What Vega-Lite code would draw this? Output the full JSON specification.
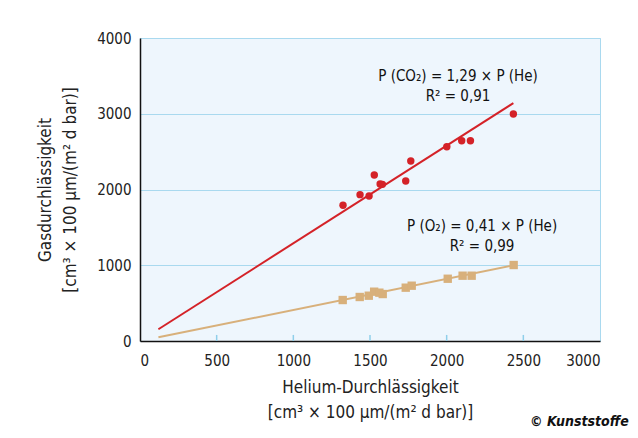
{
  "$schema": "https://vega.github.io/schema/vega-lite/v6.json",
  "width": 460,
  "height": 303,
  "autosize": {"type": "none"},
  "padding": {"left": 140, "top": 38, "right": 38, "bottom": 97},
  "background": "white",
  "config": {
    "font": "DejaVu Sans Condensed, Roboto",
    "view": {"fill": "#eef6fd", "stroke": "#a9d9ef", "strokeWidth": 1}
  },
  "title": {
    "text": "© Kunststoffe",
    "orient": "bottom",
    "anchor": "end",
    "fontSize": 14,
    "fontStyle": "italic",
    "fontWeight": "bold",
    "color": "#111",
    "dx": 28,
    "offset": -5
  },
  "datasets": {
    "points": [
      {"he": 1324, "p": 1791, "gas": "CO2"},
      {"he": 1435, "p": 1932, "gas": "CO2"},
      {"he": 1494, "p": 1914, "gas": "CO2"},
      {"he": 1528, "p": 2191, "gas": "CO2"},
      {"he": 1566, "p": 2073, "gas": "CO2"},
      {"he": 1581, "p": 2068, "gas": "CO2"},
      {"he": 1733, "p": 2112, "gas": "CO2"},
      {"he": 1766, "p": 2376, "gas": "CO2"},
      {"he": 2001, "p": 2565, "gas": "CO2"},
      {"he": 2098, "p": 2644, "gas": "CO2"},
      {"he": 2155, "p": 2644, "gas": "CO2"},
      {"he": 2435, "p": 2997, "gas": "CO2"},
      {"he": 1322, "p": 541, "gas": "O2"},
      {"he": 1433, "p": 581, "gas": "O2"},
      {"he": 1492, "p": 598, "gas": "O2"},
      {"he": 1527, "p": 651, "gas": "O2"},
      {"he": 1561, "p": 638, "gas": "O2"},
      {"he": 1583, "p": 620, "gas": "O2"},
      {"he": 1733, "p": 704, "gas": "O2"},
      {"he": 1772, "p": 730, "gas": "O2"},
      {"he": 2007, "p": 822, "gas": "O2"},
      {"he": 2104, "p": 862, "gas": "O2"},
      {"he": 2163, "p": 862, "gas": "O2"},
      {"he": 2437, "p": 1003, "gas": "O2"}
    ],
    "fits": [
      {"he": 120, "p": 155, "gas": "CO2"},
      {"he": 2435, "p": 3141, "gas": "CO2"},
      {"he": 120, "p": 49, "gas": "O2"},
      {"he": 2437, "p": 999, "gas": "O2"}
    ],
    "ticks": [
      {"he": 500, "p": 0, "p2": 80},
      {"he": 1000, "p": 0, "p2": 80},
      {"he": 1500, "p": 0, "p2": 80},
      {"he": 2000, "p": 0, "p2": 80},
      {"he": 2500, "p": 0, "p2": 80}
    ],
    "labels": [
      {"he": 2074, "p": 3498, "t": "P (CO₂) = 1,29 × P (He)"},
      {"he": 2074, "p": 3234, "t": "R² = 0,91"},
      {"he": 2231, "p": 1518, "t": "P (O₂) = 0,41 × P (He)"},
      {"he": 2231, "p": 1254, "t": "R² = 0,99"}
    ]
  },
  "encoding": {
    "x": {
      "field": "he",
      "type": "quantitative",
      "scale": {"domain": [0, 3000], "nice": false},
      "axis": {
        "values": [0, 500, 1000, 1500, 2000, 2500, 3000],
        "format": "d",
        "grid": false,
        "domainColor": "#111",
        "domainWidth": 1.5,
        "tickColor": "transparent",
        "tickSize": -6,
        "tickWidth": 1.5,
        "labelFontSize": 15,
        "labelColor": "#222",
        "labelPadding": 18,
        "title": ["Helium-Durchlässigkeit", "[cm³ × 100 µm/(m² d bar)]"],
        "titleFontSize": 17,
        "titleFontWeight": "normal",
        "titleColor": "#222",
        "titlePadding": 11,
        "titleLineHeight": 25
      }
    },
    "y": {
      "field": "p",
      "type": "quantitative",
      "scale": {"domain": [0, 4000], "nice": false},
      "axis": {
        "values": [0, 1000, 2000, 3000, 4000],
        "format": "d",
        "grid": true,
        "gridColor": "#a9d9ef",
        "gridWidth": 1,
        "ticks": false,
        "domainColor": "#111",
        "domainWidth": 1.5,
        "labelFontSize": 15,
        "labelColor": "#222",
        "labelPadding": 9,
        "title": ["Gasdurchlässigkeit", "[cm³ × 100 µm/(m² d bar)]"],
        "titleFontSize": 17,
        "titleFontWeight": "normal",
        "titleColor": "#222",
        "titlePadding": 17,
        "titleLineHeight": 25
      }
    }
  },
  "layer": [
    {
      "data": {"name": "ticks"},
      "mark": {"type": "rule", "color": "#8fcfea", "strokeWidth": 1.5},
      "encoding": {"y2": {"field": "p2"}}
    },
    {
      "data": {"name": "fits"},
      "mark": {"type": "line", "strokeWidth": 2},
      "encoding": {
        "color": {"field": "gas", "type": "nominal", "scale": {"domain": ["CO2", "O2"], "range": ["#d42228", "#d8b07b"]}, "legend": null},
        "detail": {"field": "gas"}
      }
    },
    {
      "data": {"name": "points"},
      "transform": [{"filter": "datum.gas == 'CO2'"}],
      "mark": {"type": "circle", "size": 55, "opacity": 1, "color": "#d42228"}
    },
    {
      "data": {"name": "points"},
      "transform": [{"filter": "datum.gas == 'O2'"}],
      "mark": {"type": "square", "size": 70, "opacity": 1, "filled": true, "color": "#d8b07b"}
    },
    {
      "data": {"name": "labels"},
      "mark": {"type": "text", "fontSize": 15, "color": "#111", "align": "center", "baseline": "middle"},
      "encoding": {"text": {"field": "t"}}
    }
  ]
}
